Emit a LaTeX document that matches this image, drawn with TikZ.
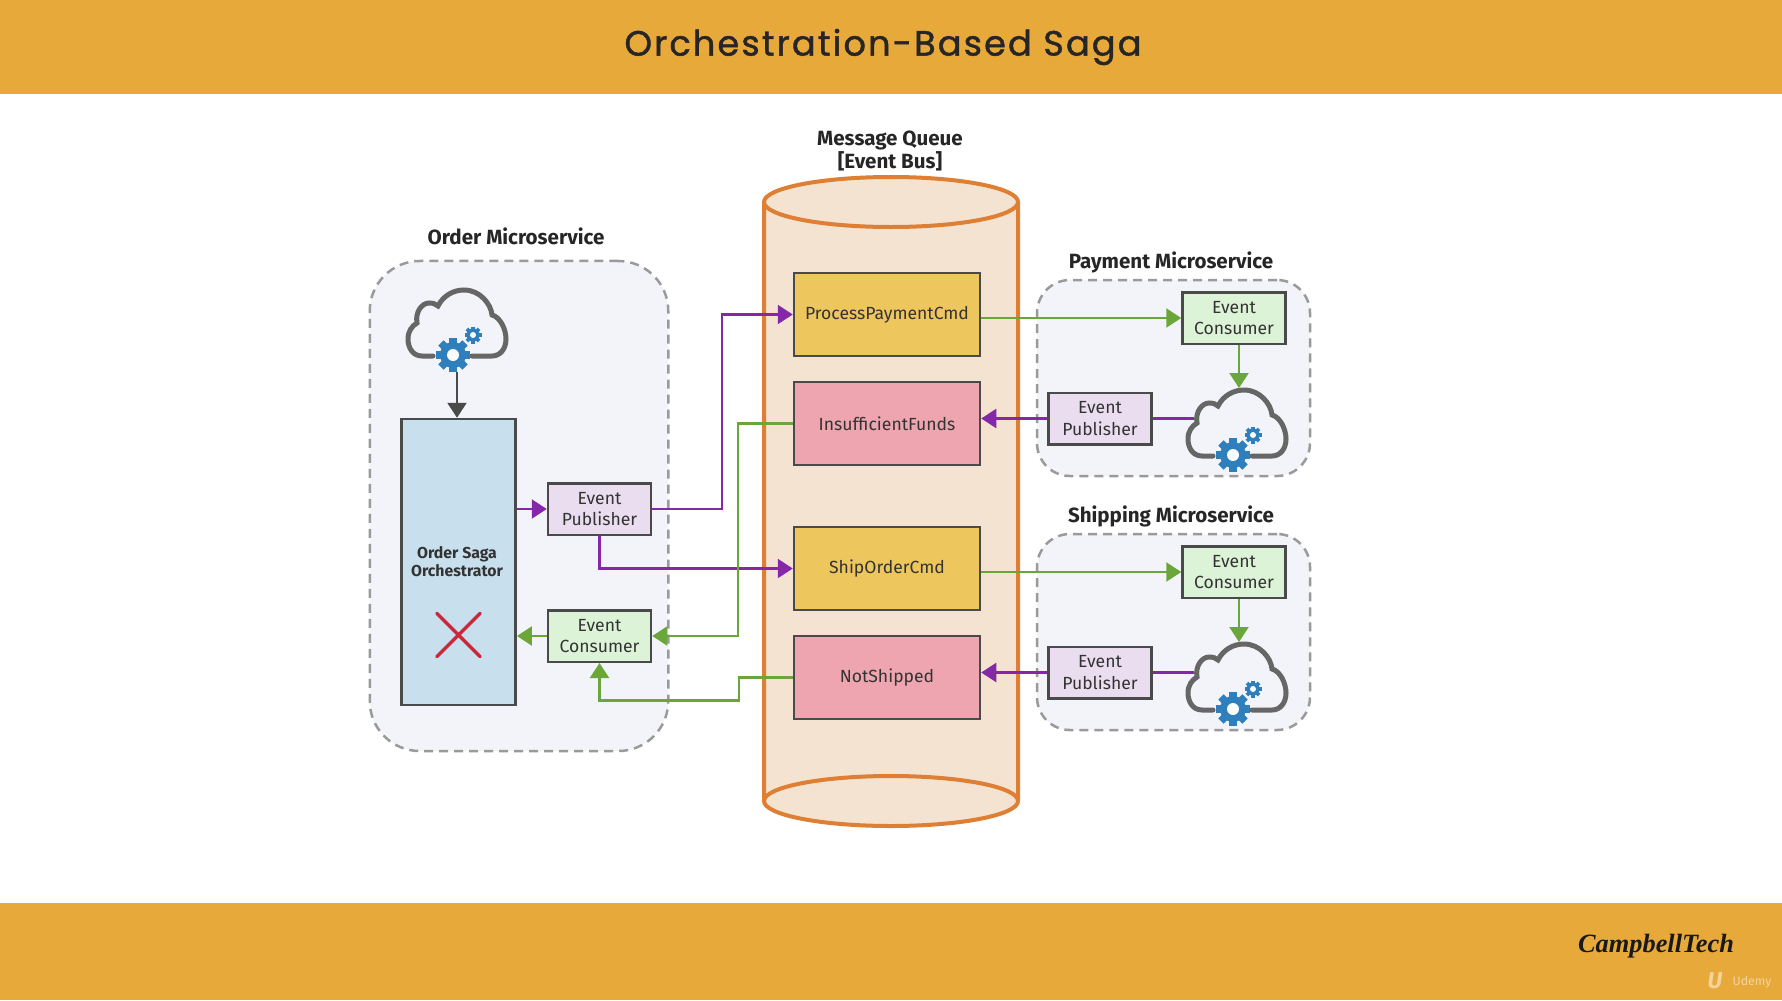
\documentclass[tikz,border=0pt]{standalone}
\usepackage{fontspec}
\setmainfont{Fira Sans}
\newfontfamily\titlefont[LetterSpace=6,FakeBold=1.2]{Poppins}
\newfontfamily\logofont{Liberation Serif}
\usetikzlibrary{arrows.meta,shapes.misc}
\definecolor{bandcol}{HTML}{E8A93B}
\definecolor{panelcol}{HTML}{F3F4F9}
\definecolor{dashcol}{HTML}{9A9A9A}
\definecolor{edgecol}{HTML}{4A4A4A}
\definecolor{cloudcol}{HTML}{666666}
\definecolor{gearcol}{HTML}{2F7FBC}
\definecolor{orchcol}{HTML}{C8E0EE}
\definecolor{pubcol}{HTML}{EBDDF0}
\definecolor{concol}{HTML}{DDF3D8}
\definecolor{cmdcol}{HTML}{EEC65E}
\definecolor{failcol}{HTML}{EEA5AF}
\definecolor{mqcol}{HTML}{F3E3D0}
\definecolor{mqedge}{HTML}{DE7F33}
\definecolor{purplecol}{HTML}{8427A8}
\definecolor{greencol}{HTML}{6BA63A}
\definecolor{crosscol}{HTML}{C9283C}

\begin{document}
\begin{tikzpicture}[x=0.2mm,y=0.2mm,
  panel/.style={draw=dashcol,fill=panelcol,line width=0.5mm,dash pattern=on 1.8mm off 1.2mm,inner sep=0pt},
  box/.style={draw=edgecol,line width=0.5mm,inner sep=0pt,align=center,font=\fontsize{10}{12.2}\selectfont,text=black!80},
  pubbox/.style={box,fill=pubcol,minimum width=20.6mm,minimum height=10.3mm},
  conbox/.style={box,fill=concol,minimum width=20.6mm,minimum height=10.3mm},
  heading/.style={inner sep=0pt,align=center,font=\fontsize{11.7}{13.6}\selectfont\bfseries,text=black!85},
  purpleline/.style={draw=purplecol,line width=0.45mm,-{Triangle[length=3mm,width=3.8mm]}},
  greenline/.style={draw=greencol,line width=0.45mm,-{Triangle[length=3mm,width=3.8mm]}},
  grayline/.style={draw=edgecol,line width=0.5mm,-{Triangle[length=3mm,width=3.8mm]}},
  gearicon/.pic={
    \foreach \a in {0,45,...,315}
      \fill[gearcol,rotate=\a] (-3.8,11) rectangle (3.8,17);
    \fill[gearcol] (0,0) circle (13);
    \fill[white!70!panelcol] (0,0) circle (6);
  },
  cloudgear/.pic={
    \draw[cloudcol,line width=1mm,line cap=round] (-23,-32) -- (-34,-32)
      .. controls (-43,-32) and (-48,-24) .. (-48,-15)
      .. controls (-48,-7) and (-44,-2) .. (-39,1)
      .. controls (-41,12) and (-34,21) .. (-27,21)
      .. controls (-23,21) and (-20,20) .. (-18,18)
      .. controls (-13,28) and (-3,34) .. (8,34)
      .. controls (24,34) and (35,20) .. (36,9)
      .. controls (44,7) and (50,-5) .. (50,-15)
      .. controls (50,-25) and (44,-32) .. (36,-32) -- (16,-32);
    \pic at (-3,-31) {gearicon};
    \pic[scale=0.5] at (17,-11) {gearicon};
    \coordinate (-top) at (3,36);
    \coordinate (-bottom) at (1,-48);
    \coordinate (-left) at (-42,4);
  }]
\useasboundingbox (0,0) rectangle (1782,-1000);
\fill[white] (0,0) rectangle (1782,-1000);
\fill[bandcol] (0,0) rectangle (1782,-94);
\fill[bandcol] (0,-903) rectangle (1782,-1000);
\node[inner sep=0pt,font=\fontsize{20}{24}\selectfont\titlefont,text=black!85] (title) at (883,-47) {Orchestration-Based Saga};
\node[inner sep=0pt,font=\fontsize{15}{18}\selectfont\logofont\bfseries\itshape,text=black!90] (logo) at (1656,-946) {CampbellTech};
\node[inner sep=0pt,font=\fontsize{7}{8}\selectfont,text=bandcol!50!white] (udemy) at (1752,-982) {Udemy};
\node[inner sep=0pt,font=\fontsize{13}{14}\selectfont\bfseries\itshape,text=bandcol!50!white] (udemymark) at (1715,-981) {U};

\fill[mqcol,draw=mqedge,line width=0.8mm] (764,-202) -- (764,-801) arc[start angle=180,end angle=360,x radius=127,y radius=25] -- (1018,-202);
\draw[mqedge,fill=mqcol,line width=0.8mm] (891,-202) ellipse [x radius=127,y radius=25];
\draw[mqedge,line width=0.8mm] (764,-801) arc[start angle=180,end angle=0,x radius=127,y radius=25];
\node[heading] (mqlabel) at (890,-151) {Message Queue\\{}[Event Bus]};

\node[panel,rounded corners=10mm,minimum width=59.7mm,minimum height=98mm] (orderpanel) at (519,-506) {};
\node[panel,rounded corners=6.6mm,minimum width=54.6mm,minimum height=39.2mm] (paypanel) at (1173.5,-378) {};
\node[panel,rounded corners=6.6mm,minimum width=54.6mm,minimum height=39.2mm] (shippanel) at (1173.5,-632) {};
\node[heading] (orderlabel) at (516,-236) {Order Microservice};
\node[heading] (paylabel) at (1171,-262) {Payment Microservice};
\node[heading] (shiplabel) at (1171,-516) {Shipping Microservice};

\node[box,fill=cmdcol,minimum width=37.2mm,minimum height=16.6mm] (processcmd) at (887,-314.5) {ProcessPaymentCmd};
\node[box,fill=failcol,minimum width=37.2mm,minimum height=16.6mm] (fundsevt) at (887,-423.5) {InsufficientFunds};
\node[box,fill=cmdcol,minimum width=37.2mm,minimum height=16.6mm] (shipcmd) at (887,-568.5) {ShipOrderCmd};
\node[box,fill=failcol,minimum width=37.2mm,minimum height=16.6mm] (notshipped) at (887,-677.5) {NotShipped};

\node[box,fill=orchcol,minimum width=22.8mm,minimum height=57.2mm] (orchestrator) at (458.7,-562) {};
\node[inner sep=0pt,align=center,font=\fontsize{9}{10.2}\selectfont\bfseries,text=black!80] (orchlabel) at (457,-562) {Order Saga\\Orchestrator};
\node[draw=crosscol,cross out,line width=0.7mm,line cap=round,minimum size=8mm,inner sep=0pt] (failmark) at (458.5,-635) {};
\node[pubbox] (orderpub) at (599.5,-509) {Event\\Publisher};
\node[conbox] (ordercon) at (599.5,-636) {Event\\Consumer};
\pic (ordercloud) at (456,-324) {cloudgear};

\node[conbox] (paycon) at (1234,-318) {Event\\Consumer};
\node[pubbox] (paypub) at (1100,-418.5) {Event\\Publisher};
\pic (paycloud) at (1236,-424) {cloudgear};
\node[conbox] (shipcon) at (1234,-572) {Event\\Consumer};
\node[pubbox] (shippub) at (1100,-672.5) {Event\\Publisher};
\pic (shipcloud) at (1236,-678) {cloudgear};

\draw[grayline] (ordercloud-bottom) -- (ordercloud-bottom |- orchestrator.north);
\draw[purpleline] (orchestrator.east |- orderpub.west) -- (orderpub.west);
\draw[purpleline] (orderpub.east) -- ++(70,0) |- (processcmd.west);
\draw[purpleline] (orderpub.south) |- (shipcmd.west);
\draw[greenline] (ordercon.west) -- (orchestrator.east |- ordercon.west);
\draw[greenline] (fundsevt.west) -- ++(-55,0) |- (ordercon.east);
\draw[greenline] (notshipped.west) -- ++(-54,0) -- ++(0,-23) -| (ordercon.south);

\draw[greenline] (processcmd.east |- paycon.west) -- (paycon.west);
\draw[greenline] (paycon.south -| paycloud-top) -- (paycloud-top);
\draw[draw=purplecol,line width=0.45mm] (paypub.east) -- (paycloud-left |- paypub.east);
\draw[purpleline] (paypub.west) -- (fundsevt.east |- paypub.west);

\draw[greenline] (shipcmd.east |- shipcon.west) -- (shipcon.west);
\draw[greenline] (shipcon.south -| shipcloud-top) -- (shipcloud-top);
\draw[draw=purplecol,line width=0.45mm] (shippub.east) -- (shipcloud-left |- shippub.east);
\draw[purpleline] (shippub.west) -- (notshipped.east |- shippub.west);
\end{tikzpicture}
\end{document}
